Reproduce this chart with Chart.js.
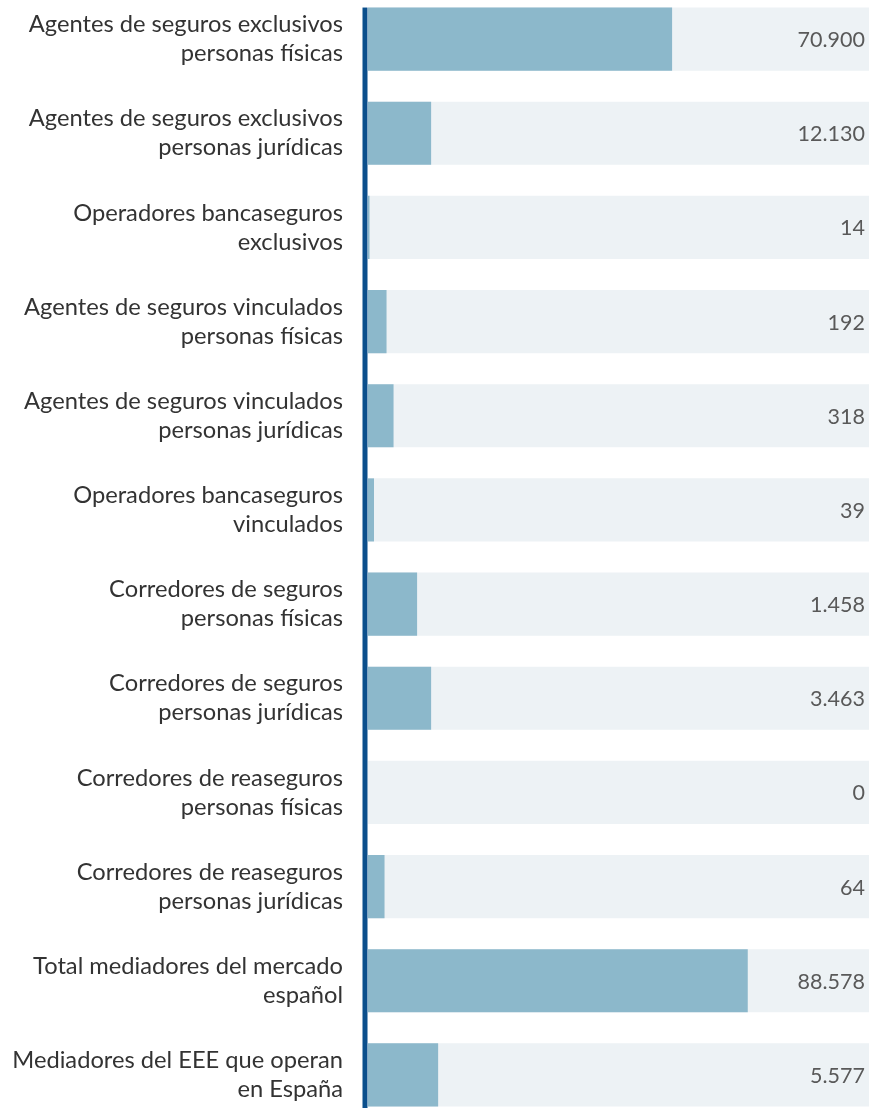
<!DOCTYPE html>
<html lang="es">
<head>
<meta charset="utf-8">
<title>Mediadores de seguros</title>
<script src="https://cdn.jsdelivr.net/npm/chart.js@4.4.1/dist/chart.umd.min.js"></script>
<style>
    html, body { margin: 0; padding: 0; background: #fff; overflow: hidden; }
    #wrap { position: relative; top: -8px; width: 869px; height: 1130px; }
</style>
</head>
<body>
<div id="wrap"><canvas id="mediadoresChart"></canvas></div>
<script>
// categorias (dos lineas por etiqueta)
const categories = [
    ["Agentes de seguros exclusivos", "personas físicas"],
    ["Agentes de seguros exclusivos", "personas jurídicas"],
    ["Operadores bancaseguros", "exclusivos"],
    ["Agentes de seguros vinculados", "personas físicas"],
    ["Agentes de seguros vinculados", "personas jurídicas"],
    ["Operadores bancaseguros", "vinculados"],
    ["Corredores de seguros", "personas físicas"],
    ["Corredores de seguros", "personas jurídicas"],
    ["Corredores de reaseguros", "personas físicas"],
    ["Corredores de reaseguros", "personas jurídicas"],
    ["Total mediadores del mercado", "español"],
    ["Mediadores del EEE que operan", "en España"]
];

// numero de mediadores (texto a la derecha)
const counts = [70900, 12130, 14, 192, 318, 39, 1458, 3463, 0, 64, 88578, 5577];

// longitud de la barra, en % de la pista
const barLengths = [60.7, 12.6, 0.3, 3.7, 5.1, 1.2, 9.8, 12.6, 0, 3.3, 75.8, 14.0];

// pista de fondo
const trackMax = 100;
const track = categories.map(() => trackMax);

const fmt = n => String(n).replace(/\B(?=(\d{3})+(?!\d))/g, ".");

const valueLabels = {
    id: "valueLabels",
    afterDatasetsDraw(chart) {
        const {ctx, chartArea} = chart;
        const meta = chart.getDatasetMeta(1);
        ctx.save();
        ctx.font = "21.5px Lato";
        ctx.fillStyle = "#595959";
        ctx.textAlign = "right";
        ctx.textBaseline = "middle";
        meta.data.forEach((bar, i) => {
            ctx.fillText(fmt(counts[i]), chartArea.right - 4, bar.y + 1);
        });
        // eje vertical
        const first = meta.data[0];
        const top = first.y - first.height / 2;
        ctx.fillStyle = "#0b4f8c";
        ctx.fillRect(chartArea.left - 5.5, top, 5, chartArea.bottom - top);
        ctx.restore();
    }
};

const ctx = document.getElementById("mediadoresChart").getContext("2d");
new Chart(ctx, {
    type: "bar",
    data: {
        labels: categories,
        datasets: [
            {
                label: "Mediadores",
                data: barLengths,
                backgroundColor: "#8cb8cb",
                borderWidth: 0,
                grouped: false,
                order: 0,
                barPercentage: 0.67,
                categoryPercentage: 1
            },
            {
                label: "Pista",
                data: track,
                backgroundColor: "#edf2f5",
                borderWidth: 0,
                grouped: false,
                order: 1,
                barPercentage: 0.67,
                categoryPercentage: 1
            }
        ]
    },
    options: {
        indexAxis: "y",
        responsive: true,
        maintainAspectRatio: false,
        animation: false,
        layout: { padding: 0, autoPadding: false },
        plugins: {
            legend: { display: false },
            tooltip: { enabled: false }
        },
        scales: {
            x: { display: false, min: 0, max: trackMax },
            y: {
                grid: { display: false, drawTicks: false },
                border: { display: false },
                ticks: {
                    color: "#333",
                    font: { family: "Lato", size: 23.7, lineHeight: 1.22 },
                    padding: 25
                },
                afterFit(scale) {
                    scale.width = 368;
                    scale.paddingTop = 0;
                    scale.paddingBottom = 0;
                }
            }
        }
    },
    plugins: [valueLabels]
});
</script>
</body>
</html>
